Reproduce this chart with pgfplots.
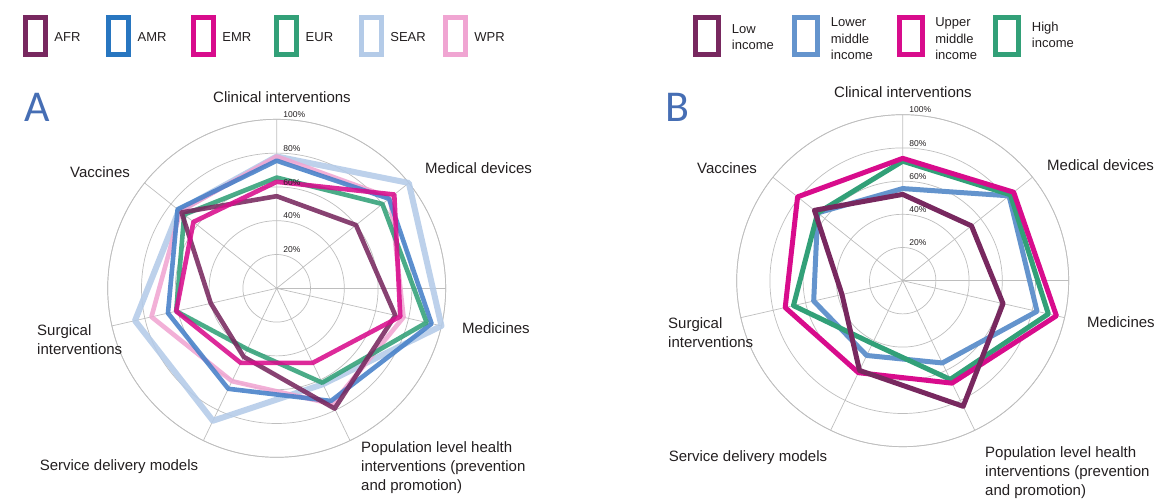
\documentclass[border=0pt]{standalone}
\usepackage{pgfplots}
\pgfplotsset{compat=1.18}
\usepgfplotslibrary{polar}
\usepackage{fontspec}
\setmainfont{Liberation Sans}
\newfontfamily\letterfont{Carlito}
\definecolor{cAFR}{RGB}{120,40,95}
\definecolor{cAMR}{RGB}{40,118,192}
\definecolor{cAMRl}{RGB}{70,128,200}
\definecolor{cEMR}{RGB}{216,12,140}
\definecolor{cEUR}{RGB}{50,160,120}
\definecolor{cSEAR}{RGB}{180,203,232}
\definecolor{cWPR}{RGB}{240,165,210}
\definecolor{cLMI}{RGB}{100,148,205}
\definecolor{cLetter}{RGB}{70,110,180}
\definecolor{cGrid}{RGB}{190,190,190}
\definecolor{cText}{RGB}{35,31,32}
\pgfplotsset{
  radar/.style={
    width=#1, height=#1, scale only axis,
    ymin=0, ymax=100,
    xtick={90,38.571,347.143,295.714,244.286,192.857,141.429},
    xticklabels={},
    ytick={20,40,60,80,100}, yticklabels={},
    grid=major,
    major grid style={cGrid, line width=0.7pt},
    axis line style={cGrid, line width=0.7pt},
    tick style={draw=none},
    clip=false,
  },
  serA/.style={line width=4.6pt, line join=round, line cap=round, opacity=0.88, mark=none},
  serB/.style={line width=5pt, line join=round, line cap=round, mark=none},
}
\newcommand{\ticklab}[1]{\node[anchor=south west, inner sep=0pt, xshift=6.5pt, yshift=1.5pt, font=\fontsize{8.5}{9}\selectfont, text=cText] at (axis cs:90,#1) {#1\%};}
\begin{document}
\begin{tikzpicture}
\useasboundingbox (0,0) rectangle (1159pt,501pt);
% ---------------- Chart A ----------------
\begin{polaraxis}[radar=338pt, at={(276.7pt,212.7pt)}, anchor=origin]
% angles: Clinical 90, Medical devices 38.571, Medicines 347.143, Population 295.714, Service 244.286, Surgical 192.857, Vaccines 141.429
\addplot[serA, cSEAR, line width=6pt] coordinates {(90,78) (38.571,100) (347.143,100) (295.714,63) (244.286,87) (192.857,86) (141.429,74) (90,78)};
\addplot[serA, cWPR] coordinates {(90,78) (38.571,86) (347.143,77) (295.714,76) (244.286,61) (192.857,76) (141.429,73) (90,78)};
\addplot[serA, cAMRl] coordinates {(90,75.5) (38.571,85) (347.143,94) (295.714,74) (244.286,66) (192.857,66) (141.429,75) (90,75.5)};
\addplot[serA, cEUR] coordinates {(90,65.5) (38.571,80) (347.143,91) (295.714,62) (244.286,40) (192.857,61) (141.429,70) (90,65.5)};
\addplot[serA, cAFR] coordinates {(90,54.5) (38.571,60) (347.143,72) (295.714,79) (244.286,45) (192.857,40) (141.429,72) (90,54.5)};
\addplot[serA, cEMR] coordinates {(90,63) (38.571,89) (347.143,75) (295.714,49) (244.286,49) (192.857,61) (141.429,63) (90,63)};
\ticklab{20}\ticklab{40}\ticklab{60}\ticklab{80}\ticklab{100}
\end{polaraxis}
% ---------------- Chart B ----------------
\begin{polaraxis}[radar=332pt, at={(902.7pt,220.3pt)}, anchor=origin]
\addplot[serB, cLMI] coordinates {(90,55.5) (38.571,82) (347.143,83) (295.714,55) (244.286,50) (192.857,55) (141.429,65.5) (90,55.5)};
\addplot[serB, cEUR] coordinates {(90,72) (38.571,83) (347.143,90) (295.714,66) (244.286,42) (192.857,67.5) (141.429,65.5) (90,72)};
\addplot[serB, cEMR] coordinates {(90,73.7) (38.571,85.5) (347.143,95) (295.714,68.5) (244.286,61.5) (192.857,72.6) (141.429,81) (90,73.7)};
\addplot[serB, cAFR] coordinates {(90,52) (38.571,53) (347.143,62) (295.714,84) (244.286,60) (192.857,37.5) (141.429,68) (90,52)};
\ticklab{20}\ticklab{40}\ticklab{60}\ticklab{80}\ticklab{100}
\end{polaraxis}
% ---------------- category labels ----------------
\begin{scope}[every node/.style={inner sep=0pt, text=cText, font=\fontsize{15}{19}\selectfont}]
% A
\node at (282pt,404pt) {Clinical interventions};
\node[anchor=west] at (425pt,333pt) {Medical devices};
\node[anchor=west] at (462pt,173pt) {Medicines};
\node[anchor=north west, align=left] at (361pt,60pt) {Population level health\\interventions (prevention\\and promotion)};
\node at (119pt,34pt) {Service delivery models};
\node[anchor=west, align=left] at (37pt,161pt) {Surgical\\interventions};
\node at (100pt,329pt) {Vaccines};
% B
\node at (903pt,409pt) {Clinical interventions};
\node at (727pt,333pt) {Vaccines};
\node[anchor=west] at (1047pt,336pt) {Medical devices};
\node[anchor=west] at (1087pt,179pt) {Medicines};
\node[anchor=west, align=left] at (668pt,168pt) {Surgical\\interventions};
\node at (748pt,43pt) {Service delivery models};
\node[anchor=north west, align=left] at (985pt,55pt) {Population level health\\interventions (prevention\\and promotion)};
\end{scope}
% ---------------- panel letters ----------------
\node[anchor=base west, inner sep=0pt, text=cLetter, font=\letterfont\fontsize{44}{44}\selectfont] at (24pt,379pt) {A};
\node[anchor=base west, inner sep=0pt, text=cLetter, font=\letterfont\fontsize{44}{44}\selectfont] at (665pt,379pt) {B};
% ---------------- legends ----------------
\foreach \x/\c/\t in {22.7/cAFR/AFR, 106/cAMR/AMR, 190.7/cEMR/EMR, 274/cEUR/EUR, 358.7/cSEAR/SEAR, 442.7/cWPR/WPR} {
  \draw[\c, line width=4.8pt] (\x pt+2.4pt,483.6pt) rectangle (\x pt+22.6pt,446.1pt);
  \node[anchor=west, inner sep=0pt, text=cText, font=\fontsize{13}{15}\selectfont] at (\x pt+31.5pt,464pt) {\t};
}
\foreach \x/\c/\t/\yy in {693.3/cAFR/{Low\\income}/464, 792.3/cLMI/{Lower\\middle\\income}/462, 896.7/cEMR/{Upper\\middle\\income}/462, 993.3/cEUR/{High\\income}/466} {
  \draw[\c, line width=5pt] (\x pt+2.5pt,483.5pt) rectangle (\x pt+25.5pt,446.8pt);
  \node[anchor=west, inner sep=0pt, align=left, text=cText, font=\fontsize{13}{16.5}\selectfont] at (\x pt+38.4pt,\yy pt) {\t};
}
\end{tikzpicture}
\end{document}
